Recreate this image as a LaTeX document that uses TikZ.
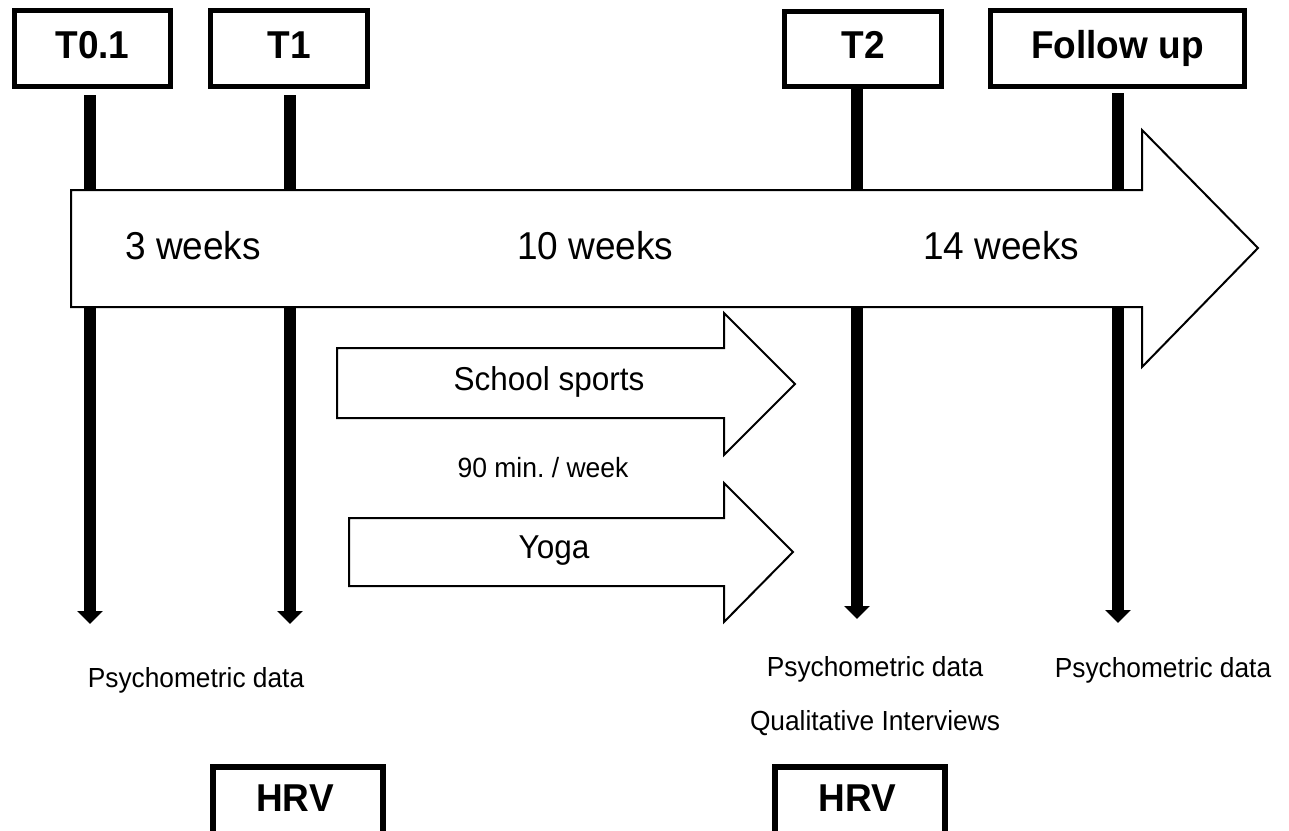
\documentclass[tikz,border=0pt]{standalone}
\usepackage{fontspec}
\setmainfont{Liberation Sans}
\usetikzlibrary{arrows.meta}
\newcommand{\vstretch}[1]{\scalebox{1}[1.05]{#1}}
\begin{document}
\begin{tikzpicture}[x=1pt,y=-1pt,
  tbox/.style={draw, line width=5pt, inner sep=0pt, fill=white},
  hbox/.style={draw, line width=6pt, inner sep=0pt},
  vline/.style={line width=12pt, -{Triangle[width=25pt,length=13pt]}},
  bigarrow/.style={draw, fill=white, line width=2pt, line join=miter},
  big/.style={font=\fontsize{37}{44}\selectfont, inner sep=0pt},
  bigb/.style={font=\fontsize{37}{44}\selectfont\bfseries, inner sep=0pt},
  mid/.style={font=\fontsize{31.5}{38}\selectfont, inner sep=0pt},
  small/.style={font=\fontsize{26.5}{32}\selectfont, inner sep=0pt},
  note/.style={font=\fontsize{26.3}{31}\selectfont, inner sep=0pt}]
\useasboundingbox (0,0) rectangle (1289,830);
\fill[white] (0,0) rectangle (1289,830);
\clip (0,0) rectangle (1289,830);

% top boxes
\node[tbox, minimum width=156pt, minimum height=76pt] (t01) at (92.5,48.5) {};
\node[tbox, minimum width=157pt, minimum height=76pt] (t1) at (289,48.5) {};
\node[tbox, minimum width=157pt, minimum height=75pt] (t2) at (863,49) {};
\node[tbox, minimum width=254pt, minimum height=76pt] (fu) at (1117.5,48.5) {};
\node[bigb, anchor=base] (t01l) at (92.5,58) {\vstretch{T0.1}};
\node[bigb, anchor=base] (t1l) at (289,58) {\vstretch{T1}};
\node[bigb, anchor=base] (t2l) at (863,58) {\vstretch{T2}};
\node[bigb, anchor=base] (ful) at (1117.5,58) {\vstretch{Follow up}};

% vertical measurement lines
\coordinate (s01) at (90,95);
\coordinate (s1) at (290,95);
\coordinate (s2) at (857,89);
\coordinate (sfu) at (1118,93);
\coordinate (e01) at (90,624);
\coordinate (e1) at (290,624);
\coordinate (e2) at (857,619);
\coordinate (efu) at (1118,623);
\draw[vline] (s01) -- (e01);
\draw[vline] (s1) -- (e1);
\draw[vline] (s2) -- (e2);
\draw[vline] (sfu) -- (efu);

% main timeline arrow
\draw[bigarrow] (71,190) -- (1142,190) -- (1142,130) -- (1258,248) -- (1142,367) -- (1142,307) -- (71,307) -- cycle;
\node[big, anchor=base west] (w3) at (125,259) {\vstretch{3 weeks}};
\node[big, anchor=base west] (w10) at (517,259) {\vstretch{10 weeks}};
\node[big, anchor=base west] (w14) at (923,259) {\vstretch{14 weeks}};

% intervention arrows
\draw[bigarrow] (337,348) -- (724,348) -- (724,313) -- (795,384) -- (724,455) -- (724,418) -- (337,418) -- cycle;
\draw[bigarrow] (349,518) -- (724,518) -- (724,483) -- (793,552) -- (724,622) -- (724,586) -- (349,586) -- cycle;
\node[mid, anchor=base] (ss) at (549,390) {\vstretch{School sports}};
\node[small, anchor=base] (min) at (543,477) {\vstretch{90 min.\ / week}};
\node[mid, anchor=base] (yoga) at (554,558) {\vstretch{Yoga}};

% measurement labels
\node[note, anchor=base] (p1) at (196,687) {\vstretch{Psychometric data}};
\node[note, anchor=base] (p2) at (875,676) {\vstretch{Psychometric data}};
\node[note, anchor=base] (q2) at (875,730) {\vstretch{Qualitative Interviews}};
\node[note, anchor=base] (p3) at (1163,677) {\vstretch{Psychometric data}};

% HRV boxes
\node[hbox, minimum width=170pt, minimum height=106pt, anchor=north west] (h1) at (210,764) {};
\node[hbox, minimum width=170pt, minimum height=106pt, anchor=north west] (h2) at (772,764) {};
\node[bigb, anchor=base] (h1l) at (295,811) {\vstretch{HRV}};
\node[bigb, anchor=base] (h2l) at (857,811) {\vstretch{HRV}};
\end{tikzpicture}
\end{document}
